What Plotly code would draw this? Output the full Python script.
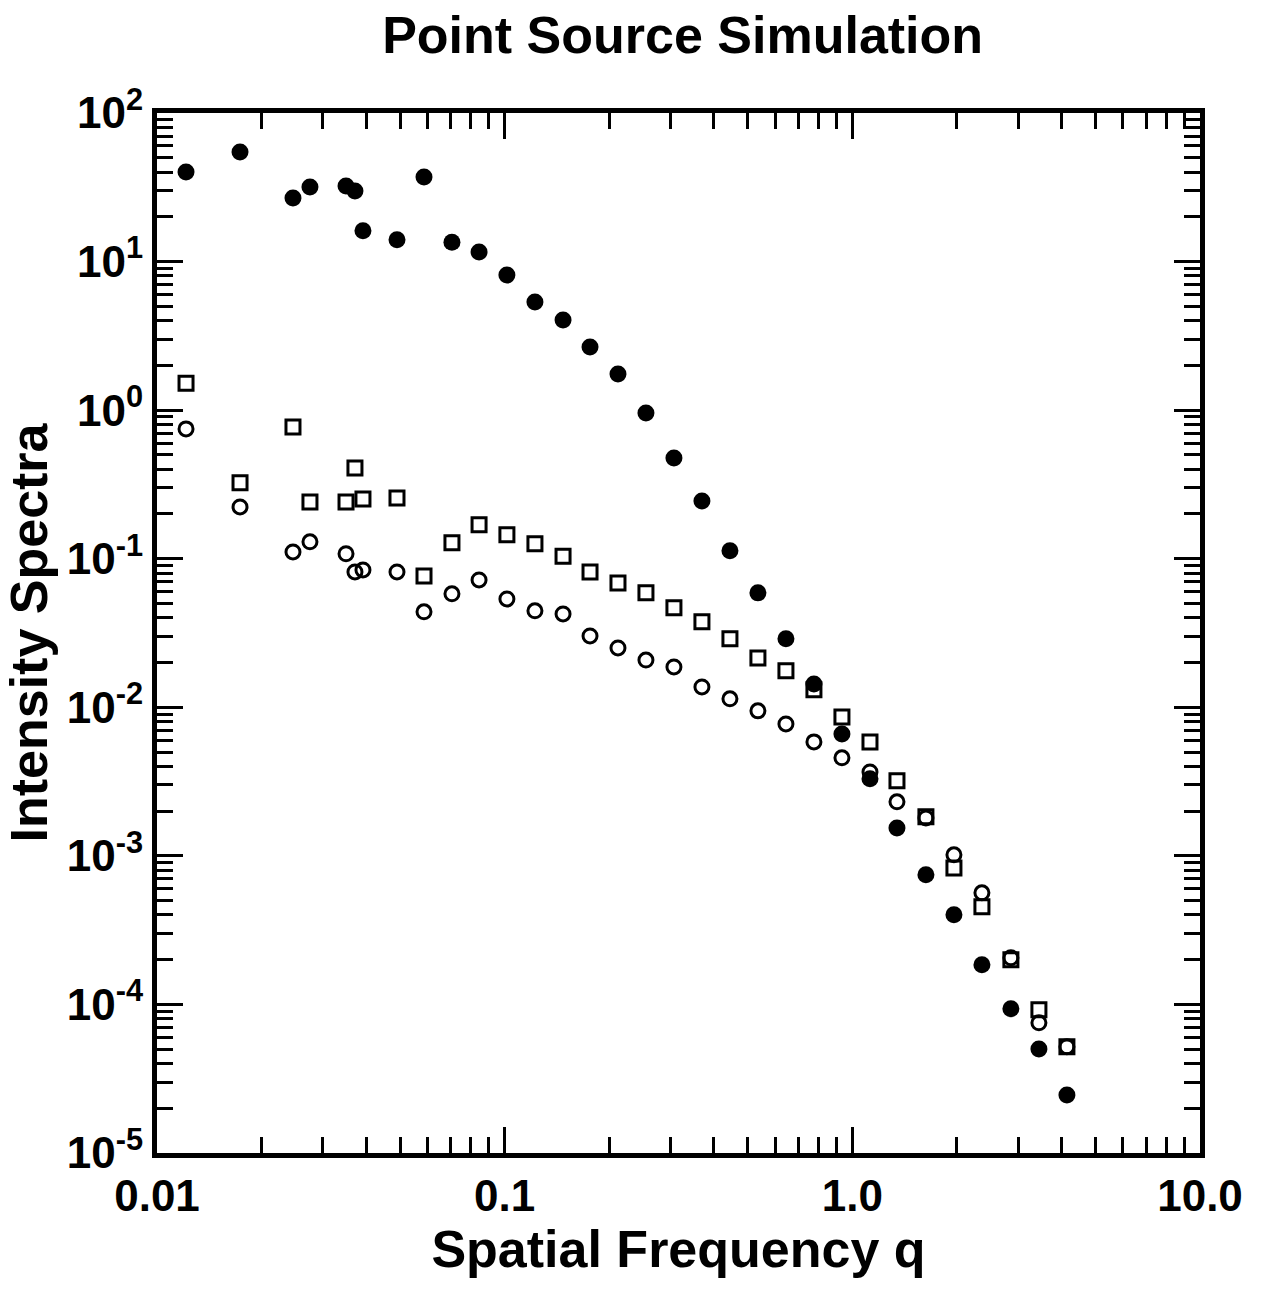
import plotly.graph_objects as go

q = [0.01212, 0.01733, 0.02461, 0.02754, 0.03497, 0.03710, 0.03912, 0.04901,
     0.05861, 0.07053, 0.0844, 0.1015, 0.1222, 0.1472, 0.1760, 0.2118,
     0.2549, 0.3068, 0.3693, 0.4446, 0.5351, 0.6442, 0.7754, 0.9335,
     1.124, 1.344, 1.628, 1.960, 2.359, 2.858, 3.441, 4.142]

filled = [40.1, 54.6, 26.8, 31.8, 32.3, 29.9, 16.1, 14.0,
          37.1, 13.5, 11.6, 8.12, 5.35, 4.05, 2.66, 1.75,
          0.958, 0.477, 0.245, 0.113, 0.0589, 0.0289, 0.01437, 0.00662,
          0.00330, 0.00154, 0.000745, 0.000401, 0.000185, 9.34e-5, 5.02e-5, 2.46e-5]

squares = [1.52, 0.324, 0.771, 0.241, 0.241, 0.408, 0.252, 0.256,
           0.0766, 0.128, 0.169, 0.145, 0.126, 0.104, 0.0815, 0.0687,
           0.0589, 0.0467, 0.0376, 0.0289, 0.0215, 0.0176, 0.0131, 0.00861,
           0.00585, 0.00320, 0.00183, 0.000830, 0.000454, 0.000200, 9.2e-5, 5.19e-5]

opens = [0.748, 0.223, 0.111, 0.130, 0.108, 0.0815, 0.0841, 0.0815,
         0.0439, 0.0580, 0.0720, 0.0536, 0.0446, 0.0425, 0.0302, 0.0251,
         0.0208, 0.0187, 0.0137, 0.0114, 0.00946, 0.00773, 0.00585, 0.00457,
         0.00367, 0.00231, 0.00180, 0.001016, 0.000564, 0.000206, 7.52e-5, 5.19e-5]

x_tickvals = [0.01, 0.1, 1, 10]
x_ticktext = ["0.01", "0.1", "1.0", "10.0"]
y_tickvals = [1e2, 1e1, 1e0, 1e-1, 1e-2, 1e-3, 1e-4, 1e-5]
y_ticktext = ["10<sup>2</sup>", "10<sup>1</sup>", "10<sup>0</sup>", "10<sup>-1</sup>",
              "10<sup>-2</sup>", "10<sup>-3</sup>", "10<sup>-4</sup>", "10<sup>-5</sup>"]

FONT = "Liberation Sans, Arial, sans-serif"

fig = go.Figure()
fig.add_trace(go.Scatter(x=q, y=filled, mode="markers",
                         marker=dict(symbol="circle", size=17, color="black",
                                     line=dict(width=0)), showlegend=False))
fig.add_trace(go.Scatter(x=q, y=squares, mode="markers",
                         marker=dict(symbol="square-open", size=14, color="black",
                                     line=dict(width=3)), showlegend=False))
fig.add_trace(go.Scatter(x=q, y=opens, mode="markers",
                         marker=dict(symbol="circle-open", size=14, color="black",
                                     line=dict(width=3)), showlegend=False))

x_minor = [m * 10.0 ** e for e in range(-2, 1) for m in range(2, 10)]
y_minor = [m * 10.0 ** e for e in range(-5, 2) for m in range(2, 10)]

fig.update_xaxes(type="log", range=[-2, 1], tickmode="array",
                 tickvals=x_tickvals, ticktext=x_ticktext,
                 ticks="inside", ticklen=26, tickwidth=3, tickcolor="black",
                 showline=True, linewidth=5, linecolor="black", mirror="ticks",
                 showgrid=False, zeroline=False,
                 minor=dict(tickmode="array", tickvals=x_minor, ticks="inside",
                            ticklen=16, tickwidth=3, tickcolor="black", showgrid=False),
                 tickfont=dict(family=FONT, size=44, color="black", weight="bold"),
                 title=dict(text="<b>Spatial Frequency q</b>", standoff=10,
                            font=dict(family=FONT, size=52, color="black")))
fig.update_yaxes(type="log", range=[-5, 2], tickmode="array",
                 tickvals=y_tickvals, ticktext=y_ticktext,
                 ticks="inside", ticklen=26, tickwidth=3, tickcolor="black",
                 showline=True, linewidth=5, linecolor="black", mirror="ticks",
                 showgrid=False, zeroline=False,
                 minor=dict(tickmode="array", tickvals=y_minor, ticks="inside",
                            ticklen=16, tickwidth=3, tickcolor="black", showgrid=False),
                 tickfont=dict(family=FONT, size=44, color="black", weight="bold"),
                 title=dict(text="<b>Intensity Spectra</b>", standoff=4,
                            font=dict(family=FONT, size=52, color="black")))

fig.update_layout(
    width=1270, height=1296,
    margin=dict(l=157, r=70, t=113, b=143, autoexpand=False),
    paper_bgcolor="white", plot_bgcolor="white",
    font=dict(family=FONT, color="black"),
    title=dict(text="<b>Point Source Simulation</b>", x=0.5375, xanchor="center",
               y=0.973, yanchor="middle",
               font=dict(family=FONT, size=52, color="black")),
)

fig.write_html("out.html")
